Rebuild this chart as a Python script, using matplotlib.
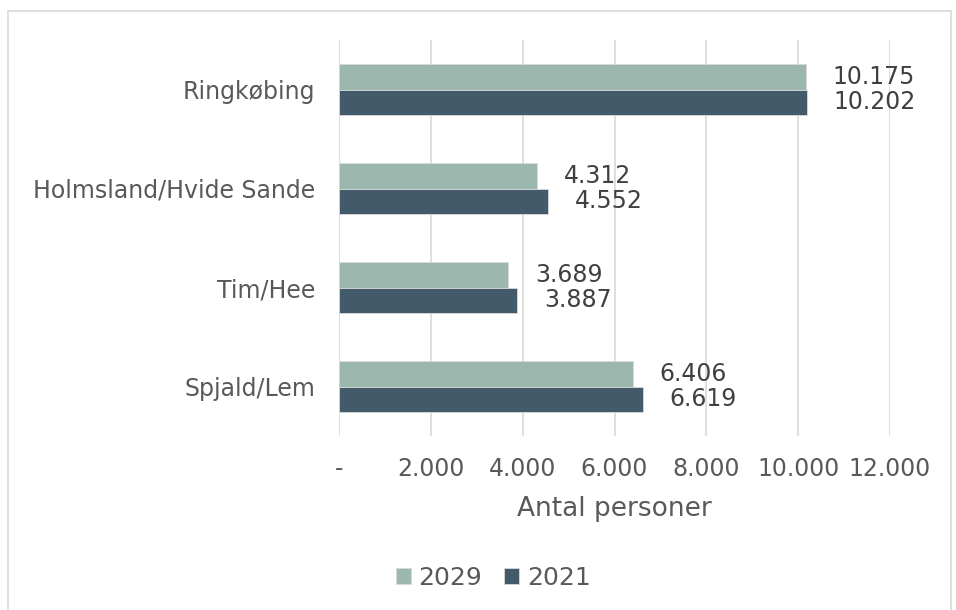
import matplotlib.pyplot as plt
import numpy as np
from matplotlib.patches import Rectangle
from matplotlib.ticker import FuncFormatter

categories = ["Ringkøbing", "Holmsland/Hvide Sande", "Tim/Hee", "Spjald/Lem"]
values_2029 = [10175, 4312, 3689, 6406]
values_2021 = [10202, 4552, 3887, 6619]
x_ticks = [0, 2000, 4000, 6000, 8000, 10000, 12000]

color_2029 = "#9CB7AD"
color_2021 = "#425A69"
text_grey = "#595959"
label_dark = "#404040"

plt.rcParams["font.family"] = ["DejaVu Sans"]

fig = plt.figure(figsize=(9.56, 6.10), dpi=100)
ax = fig.add_axes([339 / 956, 1 - 436 / 610, (890 - 339) / 956, (436 - 40) / 610])

# outer frame like the spreadsheet chart border
fig.patches.append(Rectangle((8 / 956, -0.01), (951 - 8) / 956, 1 - 11 / 610 + 0.01,
                             transform=fig.transFigure, fill=False,
                             edgecolor="#D9D9D9", linewidth=1.2))

y = np.arange(len(categories))
h = 0.26
bars_29 = ax.barh(y - h / 2, values_2029, height=h, color=color_2029,
                  edgecolor="#D9D9D9", linewidth=0.6, label="2029", zorder=2)
bars_21 = ax.barh(y + h / 2, values_2021, height=h, color=color_2021,
                  edgecolor="#D9D9D9", linewidth=0.6, label="2021", zorder=2)

for bars, vals in ((bars_29, values_2029), (bars_21, values_2021)):
    for bar, v in zip(bars, vals):
        ax.annotate(f"{v:,}".replace(",", "."),
                    (bar.get_width(), bar.get_y() + bar.get_height() / 2),
                    xytext=(19, 0), textcoords="offset points",
                    ha="left", va="center", fontsize=17, color=label_dark)

ax.set_ylim(len(categories) - 0.5, -0.5)
ax.set_yticks(y)
ax.set_yticklabels(categories)
ax.set_xlim(0, 12000)
ax.set_xticks(x_ticks)
ax.xaxis.set_major_formatter(FuncFormatter(
    lambda v, _: "-" if v == 0 else f"{int(v):,}".replace(",", ".")))
ax.tick_params(axis="both", length=0, colors=text_grey, labelsize=17)
ax.tick_params(axis="x", pad=15)
ax.tick_params(axis="y", pad=17)
ax.grid(axis="x", color="#D9D9D9", linewidth=1.2, zorder=0)
ax.set_axisbelow(True)
for s in ax.spines.values():
    s.set_visible(False)

ax.set_xlabel("Antal personer", fontsize=19, color=text_grey, labelpad=11)

fig.legend(handles=[bars_29, bars_21], labels=["2029", "2021"],
           loc="center", bbox_to_anchor=(493 / 956, 1 - 578 / 610),
           ncol=2, frameon=False, fontsize=18, labelcolor=text_grey,
           handlelength=0.6, handleheight=0.6, handletextpad=0.3,
           columnspacing=0.9)

fig.savefig("out.png", dpi=100)
